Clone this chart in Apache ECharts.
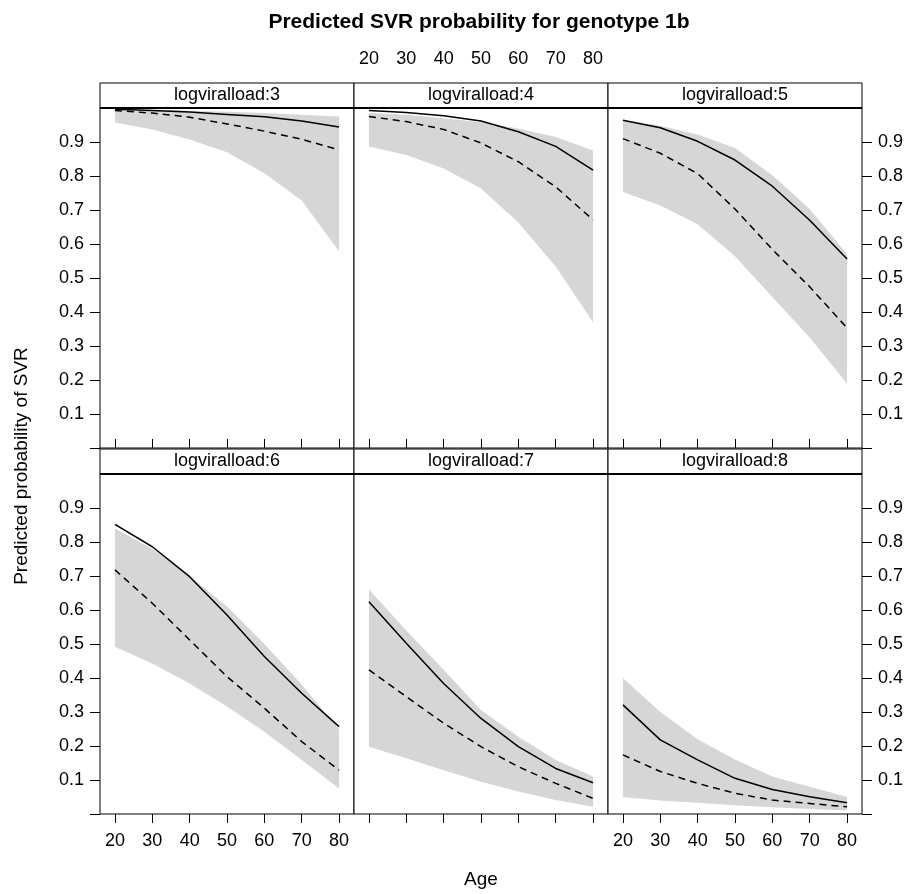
<!DOCTYPE html>
<html lang="en">
<head>
<meta charset="UTF-8">
<title>Predicted SVR probability for genotype 1b</title>
<script src="https://cdn.jsdelivr.net/npm/echarts@6/dist/echarts.min.js"></script>
<style>
    html, body { margin: 0; padding: 0; background: #fff; }
    #chart { width: 912px; height: 894px; }
</style>
</head>
<body>
<div id="chart"></div>
<script>
    const ages = [20, 30, 40, 50, 60, 70, 80];
    const xTicks = [20, 30, 40, 50, 60, 70, 80];
    const yTicks = [0, 0.1, 0.2, 0.3, 0.4, 0.5, 0.6, 0.7, 0.8, 0.9];
    const yLabels = [0.1, 0.2, 0.3, 0.4, 0.5, 0.6, 0.7, 0.8, 0.9];
    const panelNames = ['logviralload:3', 'logviralload:4', 'logviralload:5',
                        'logviralload:6', 'logviralload:7', 'logviralload:8'];

    // solid line
    const solid3 = [0.996, 0.993, 0.988, 0.981, 0.974, 0.962, 0.944];
    const solid4 = [0.993, 0.987, 0.977, 0.962, 0.930, 0.887, 0.817];
    const solid5 = [0.964, 0.942, 0.902, 0.847, 0.770, 0.670, 0.556];
    const solid6 = [0.852, 0.786, 0.698, 0.585, 0.463, 0.355, 0.257];
    const solid7 = [0.624, 0.502, 0.384, 0.281, 0.198, 0.134, 0.092];
    const solid8 = [0.321, 0.218, 0.159, 0.105, 0.072, 0.051, 0.033];

    // dashed line
    const dashed3 = [0.993, 0.985, 0.973, 0.953, 0.932, 0.908, 0.877];
    const dashed4 = [0.975, 0.960, 0.937, 0.897, 0.842, 0.768, 0.671];
    const dashed5 = [0.910, 0.867, 0.807, 0.703, 0.584, 0.474, 0.353];
    const dashed6 = [0.718, 0.620, 0.512, 0.404, 0.311, 0.213, 0.129];
    const dashed7 = [0.424, 0.345, 0.267, 0.198, 0.139, 0.090, 0.046];
    const dashed8 = [0.174, 0.125, 0.090, 0.061, 0.041, 0.031, 0.021];

    // grey band, lower and upper edge
    const lower3 = [0.957, 0.937, 0.907, 0.870, 0.808, 0.728, 0.579];
    const upper3 = [0.997, 0.995, 0.992, 0.989, 0.985, 0.980, 0.975];
    const lower4 = [0.887, 0.862, 0.822, 0.763, 0.663, 0.534, 0.370];
    const upper4 = [0.985, 0.980, 0.970, 0.958, 0.940, 0.915, 0.875];
    const lower5 = [0.753, 0.713, 0.658, 0.564, 0.444, 0.325, 0.190];
    const upper5 = [0.965, 0.948, 0.922, 0.882, 0.802, 0.703, 0.570];
    const lower6 = [0.492, 0.443, 0.384, 0.316, 0.242, 0.159, 0.075];
    const upper6 = [0.840, 0.780, 0.700, 0.610, 0.500, 0.380, 0.250];
    const lower7 = [0.198, 0.164, 0.129, 0.095, 0.066, 0.041, 0.021];
    const upper7 = [0.660, 0.540, 0.424, 0.306, 0.227, 0.159, 0.110];
    const lower8 = [0.050, 0.040, 0.033, 0.026, 0.020, 0.015, 0.010];
    const upper8 = [0.400, 0.300, 0.220, 0.160, 0.110, 0.080, 0.050];

    const solidLines = [solid3, solid4, solid5, solid6, solid7, solid8];
    const dashedLines = [dashed3, dashed4, dashed5, dashed6, dashed7, dashed8];
    const lowerBands = [lower3, lower4, lower5, lower6, lower7, lower8];
    const upperBands = [upper3, upper4, upper5, upper6, upper7, upper8];

    // layout
    const FONT = 'Liberation Sans, Arial, sans-serif';
    const colLeft = [100, 354, 608];
    const colWidth = 254;
    const rowTop = [108, 474];
    const plotHeight = 340;
    const stripHeight = 25;

    const chart = echarts.init(document.getElementById('chart'), null, {renderer: 'canvas'});

    let grids = [], xAxes = [], yAxes = [], series = [], graphics = [];

    // band polygon: lower edge left->right, upper edge right->left
    function bandRenderer(lo, up) {
        return function (params, api) {
            if (params.dataIndex !== 0) return null;
            let pts = [];
            for (let i = 0; i < ages.length; i++) pts.push(api.coord([ages[i], lo[i]]));
            for (let i = ages.length - 1; i >= 0; i--) pts.push(api.coord([ages[i], up[i]]));
            return {
                type: 'polygon',
                shape: {points: pts},
                style: {fill: '#d6d6d6', stroke: null}
            };
        };
    }

    for (let p = 0; p < 6; p++) {
        let row = p < 3 ? 0 : 1;
        let col = p % 3;
        grids.push({
            left: colLeft[col], top: rowTop[row], width: colWidth, height: plotHeight,
            show: true, borderColor: '#000', borderWidth: 1, backgroundColor: '#fff'
        });

        // x axis: top row ticks sit above the strip, bottom row below the panel
        let showXLabel = row === 0 ? col === 1 : col !== 1;
        xAxes.push({
            type: 'value', gridIndex: p, min: 16, max: 84,
            position: row === 0 ? 'top' : 'bottom',
            offset: row === 0 ? stripHeight : 0,
            splitLine: {show: false},
            axisLine: {show: false},
            axisTick: {show: true, inside: false, length: 9, customValues: xTicks,
                       lineStyle: {color: '#000', width: 1}},
            axisLabel: {show: showXLabel, customValues: xTicks, margin: row === 0 ? 15 : 18,
                        color: '#000', fontSize: 18, fontFamily: FONT}
        });

        let hasY = col !== 1;
        yAxes.push({
            type: 'value', gridIndex: p, min: 0, max: 1.0,
            position: col === 2 ? 'right' : 'left',
            splitLine: {show: false},
            axisLine: {show: false},
            axisTick: {show: hasY, inside: false, length: 10, customValues: yTicks,
                       lineStyle: {color: '#000', width: 1}},
            axisLabel: {show: hasY, customValues: yLabels, margin: 16,
                        color: '#000', fontSize: 18, fontFamily: FONT,
                        formatter: v => v.toFixed(1)}
        });

        let lo = lowerBands[p], up = upperBands[p];
        series.push({
            type: 'custom', xAxisIndex: p, yAxisIndex: p, silent: true, clip: true, z: 1,
            data: ages.map((a, i) => [a, lo[i], up[i]]),
            encode: {x: 0, y: [1, 2]},
            renderItem: bandRenderer(lo, up)
        });
        series.push({
            type: 'line', xAxisIndex: p, yAxisIndex: p,
            data: ages.map((a, i) => [a, solidLines[p][i]]),
            symbol: 'none', lineStyle: {color: '#000', width: 1.5}, z: 3
        });
        series.push({
            type: 'line', xAxisIndex: p, yAxisIndex: p,
            data: ages.map((a, i) => [a, dashedLines[p][i]]),
            symbol: 'none', lineStyle: {color: '#000', width: 1.5, type: [7, 5]}, z: 3
        });

        // strip above each panel
        graphics.push({
            type: 'rect', z: 10,
            shape: {x: colLeft[col], y: rowTop[row] - stripHeight, width: colWidth, height: stripHeight},
            style: {fill: '#fff', stroke: '#000', lineWidth: 1}
        });
        graphics.push({
            type: 'line', z: 12,
            shape: {x1: colLeft[col], y1: rowTop[row], x2: colLeft[col] + colWidth, y2: rowTop[row]},
            style: {stroke: '#000', lineWidth: 2}
        });
        graphics.push({
            type: 'text', z: 11,
            x: colLeft[col] + colWidth / 2, y: rowTop[row] - stripHeight / 2,
            style: {text: panelNames[p], fill: '#000', font: '18px ' + FONT,
                    textAlign: 'center', textVerticalAlign: 'middle'}
        });
    }

    // title and axis names
    graphics.push({
        type: 'text', x: 479, y: 22,
        style: {text: 'Predicted SVR probability for genotype 1b', fill: '#000',
                font: 'bold 21px ' + FONT, textAlign: 'center', textVerticalAlign: 'middle'}
    });
    graphics.push({
        type: 'text', x: 481, y: 880,
        style: {text: 'Age', fill: '#000', font: '19px ' + FONT,
                textAlign: 'center', textVerticalAlign: 'middle'}
    });
    graphics.push({
        type: 'text', x: 22, y: 466, rotation: Math.PI / 2,
        style: {text: 'Predicted probability of SVR', fill: '#000', font: '19px ' + FONT,
                textAlign: 'center', textVerticalAlign: 'middle'}
    });

    chart.setOption({
        backgroundColor: '#fff',
        animation: false,
        grid: grids,
        xAxis: xAxes,
        yAxis: yAxes,
        series: series,
        graphic: graphics
    });
</script>
</body>
</html>
